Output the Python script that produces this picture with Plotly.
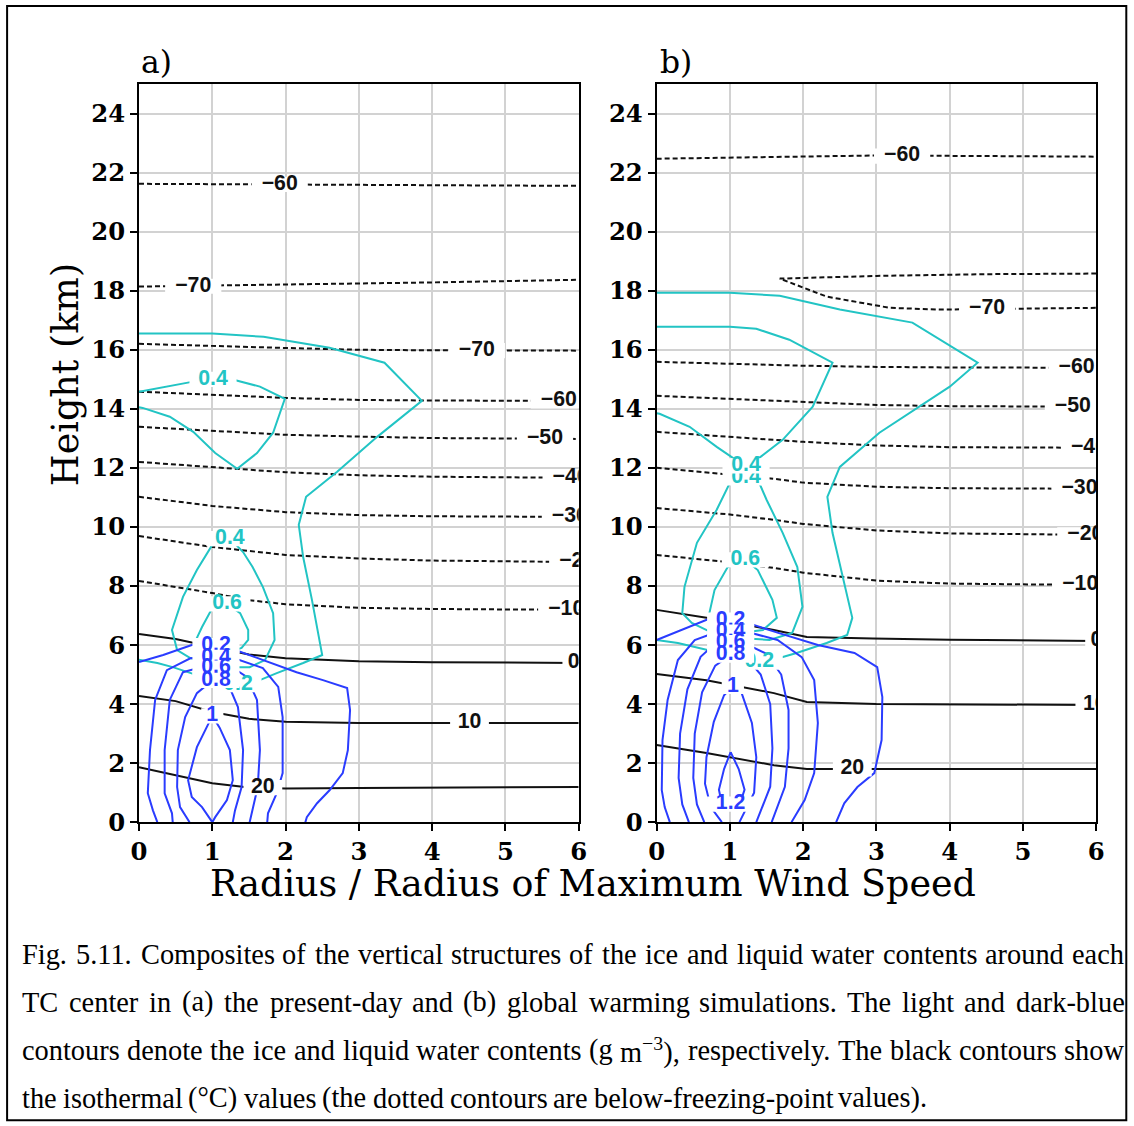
import plotly.graph_objects as go

# ---------------- geometry ----------------
# Target positions below are given in pixels of the 1134x1126 reference picture.
# The photographed page shows the figure scaled by PHOTO_S and shifted by PHOTO_DX,
# so positions are pre-compensated for that.
PHOTO_S = 0.9866
PHOTO_DX = 7.9
FW, FH = 1134, 1136
PA_X0, PA_X1 = 139, 579
PB_X0, PB_X1 = 657, 1097
P_TOP, P_BOT = 84, 822

X_RANGE = [0, 6]
Y_RANGE = [0, 25]
X_TICKS = [0, 1, 2, 3, 4, 5, 6]
Y_TICKS = list(range(0, 25, 2))

# ---------------- panel a : isotherms (deg C) ----------------
A_T_M60_HI = [(0, 21.62), (2, 21.6), (4, 21.57), (6, 21.55)]
A_T_M70_HI = [(0, 18.14), (2, 18.2), (4, 18.28), (6, 18.37)]
A_T_M70_LO = [(0, 16.2), (1, 16.12), (2, 16.06), (3, 16.0), (4, 15.98), (6, 15.97)]
A_T_M60_LO = [(0, 14.58), (1, 14.47), (2, 14.37), (3, 14.3), (4, 14.28), (6, 14.27)]
A_T_M50 = [(0, 13.39), (1, 13.25), (2, 13.12), (3, 13.06), (4, 13.01), (6, 12.98)]
A_T_M40 = [(0, 12.2), (1, 12.02), (2, 11.85), (3, 11.75), (4, 11.7), (6, 11.66)]
A_T_M30 = [(0, 11.02), (1, 10.71), (2, 10.5), (3, 10.4), (4, 10.36), (6, 10.34)]
A_T_M20 = [(0, 9.69), (1, 9.32), (2, 9.05), (3, 8.93), (4, 8.86), (6, 8.81)]
A_T_M10 = [(0, 8.17), (1, 7.76), (1.5, 7.52), (2, 7.38), (3, 7.26), (4, 7.22), (6, 7.19)]
A_T_0 = [(0, 6.37), (0.5, 6.2), (1, 5.93), (1.5, 5.68), (2, 5.55), (3, 5.45), (4, 5.42), (6, 5.39)]
A_T_10 = [(0, 4.27), (0.5, 4.1), (1, 3.73), (1.5, 3.5), (2, 3.4), (3, 3.36), (6, 3.36)]
A_T_20 = [(0, 1.86), (0.5, 1.6), (1, 1.32), (1.5, 1.17), (2, 1.14), (3, 1.16), (6, 1.19)]

# ---------------- panel a : ice water content (g m-3) ----------------
A_I02 = [(0, 16.55), (1, 16.55), (1.7, 16.44), (2.6, 16.07), (3.35, 15.56), (3.86, 14.27),
         (3.25, 13.05), (2.7, 11.86), (2.28, 11.02), (2.18, 10.07), (2.24, 8.98), (2.36, 7.53),
         (2.5, 5.66), (2.24, 5.39), (1.88, 5.05), (1.55, 4.71), (1.35, 4.64), (1.1, 4.75),
         (0.79, 4.98), (0.46, 5.25), (0.25, 5.39), (0, 5.5)]
A_I04_HI = [(0, 14.58), (0.29, 14.71), (0.74, 14.92), (1.0, 15.0), (1.24, 15.02), (1.65, 14.75),
            (1.99, 14.34), (1.83, 13.19), (1.61, 12.5), (1.34, 11.97), (1.04, 12.5), (0.74, 13.22),
            (0.42, 13.73), (0.05, 14.03), (0, 14.05)]
A_I04_LO = [(1.24, 9.62), (1.0, 9.39), (0.79, 8.54), (0.6, 7.63), (0.45, 6.51), (0.52, 5.83),
            (0.7, 5.56), (1.0, 5.39), (1.24, 5.25), (1.51, 5.25), (1.72, 5.49), (1.85, 6.17),
            (1.83, 7.08), (1.69, 7.97), (1.55, 8.64), (1.42, 9.15), (1.24, 9.62)]
A_I06 = [(1.2, 7.39), (1.0, 7.25), (0.86, 6.61), (0.79, 6.24), (0.94, 5.93), (1.2, 5.73),
         (1.4, 5.9), (1.49, 6.17), (1.49, 6.51), (1.38, 7.08), (1.2, 7.39)]

# ---------------- panel a : liquid water content (g m-3) ----------------
A_L02 = [(0, 5.42), (0.33, 5.66), (0.72, 6.0), (1.08, 6.07), (1.24, 5.9), (1.69, 5.49),
         (2.15, 5.08), (2.51, 4.81), (2.84, 4.54), (2.88, 3.8), (2.85, 2.44), (2.78, 1.66),
         (2.6, 1.08), (2.43, 0.64), (2.29, 0.17), (2.27, 0)]
A_L04 = [(0.25, 0), (0.19, 0.4), (0.12, 0.98), (0.15, 2.44), (0.22, 4.14), (0.38, 5.15),
         (0.7, 5.55), (1.08, 5.62), (1.3, 5.55), (1.69, 5.22), (1.9, 4.58), (1.96, 3.56),
         (1.96, 1.66), (1.88, 0.98), (1.76, 0.3), (1.75, 0)]
A_L06 = [(0.46, 0), (0.45, 0.3), (0.35, 0.98), (0.35, 2.44), (0.42, 4.14), (0.6, 5.08),
         (0.85, 5.25), (1.08, 5.26), (1.3, 5.2), (1.47, 4.92), (1.61, 4.14), (1.65, 2.44),
         (1.62, 1.19), (1.54, 0.3), (1.51, 0)]
A_L08 = [(0.69, 0), (0.56, 0.51), (0.52, 1.19), (0.53, 2.44), (0.63, 3.56), (0.79, 4.37),
         (1.0, 4.8), (1.24, 4.54), (1.35, 3.9), (1.42, 2.44), (1.4, 1.19), (1.31, 0.4), (1.28, 0)]
A_L10 = [(1.0, 0), (0.86, 0.51), (0.72, 0.85), (0.67, 1.42), (0.79, 2.54), (1.0, 3.6),
         (1.1, 3.2), (1.24, 2.44), (1.28, 1.42), (1.2, 0.75), (1.04, 0.17), (1.0, 0)]

# ---------------- panel b : isotherms ----------------
B_T_M60_HI = [(0, 22.47), (1.5, 22.52), (3, 22.58), (4.5, 22.56), (6, 22.54)]
B_T_M70 = [(6, 18.58), (4.5, 18.56), (3, 18.5), (2.2, 18.45), (1.68, 18.41), (2.32, 17.8),
           (3.18, 17.42), (3.86, 17.36), (4.5, 17.38), (6, 17.42)]
B_T_M60_LO = [(0, 15.59), (1, 15.52), (2, 15.46), (3, 15.42), (4, 15.4), (6, 15.39)]
B_T_M50 = [(0, 14.44), (1, 14.33), (2, 14.22), (3, 14.13), (4, 14.09), (6, 14.07)]
B_T_M40 = [(0, 13.22), (1, 13.05), (2, 12.88), (3, 12.76), (4, 12.7), (6, 12.68)]
B_T_M30 = [(0, 12.0), (1, 11.78), (1.6, 11.63), (2, 11.5), (3, 11.36), (4, 11.31), (6, 11.29)]
B_T_M20 = [(0, 10.64), (1, 10.42), (1.6, 10.24), (2, 10.1), (3, 9.88), (4, 9.78), (6, 9.73)]
B_T_M10 = [(0, 9.05), (1, 8.8), (1.6, 8.61), (2, 8.45), (3, 8.18), (4, 8.08), (6, 8.03)]
B_T_0 = [(0, 7.19), (0.68, 6.92), (1.6, 6.51), (2.05, 6.27), (2.95, 6.22), (4, 6.18), (6, 6.14)]
B_T_10 = [(0, 5.02), (0.68, 4.81), (1.6, 4.37), (2.05, 4.07), (3, 4.0), (6, 3.97)]
B_T_20 = [(0, 2.61), (0.68, 2.34), (1.6, 1.93), (2.05, 1.8), (3, 1.8), (6, 1.8)]

# ---------------- panel b : ice water content ----------------
B_I02 = [(0, 17.93), (1.0, 17.93), (1.68, 17.83), (2.5, 17.36), (3.49, 16.92), (4.38, 15.56),
         (4.0, 14.75), (3.56, 14.03), (3.04, 13.19), (2.5, 12.03), (2.33, 11.02), (2.4, 9.8),
         (2.54, 8.31), (2.67, 6.92), (2.6, 6.34), (2.32, 6.07), (1.91, 5.73), (1.58, 5.49),
         (1.4, 5.42), (0.89, 5.73), (0.61, 5.9), (0.29, 6.07), (0, 6.17)]
B_I04_HI = [(0, 16.78), (1.0, 16.78), (1.36, 16.71), (1.81, 16.34), (2.4, 15.56), (2.13, 14.07),
            (1.72, 12.95), (1.4, 12.34), (1.22, 12.07), (1.04, 12.34), (0.82, 12.71),
            (0.45, 13.39), (0.04, 13.83), (0, 13.85)]
B_I04_LO = [(1.22, 11.66), (1.0, 11.49), (0.82, 10.58), (0.55, 9.46), (0.38, 7.97), (0.35, 7.08),
            (0.48, 6.75), (0.76, 6.41), (1.13, 6.24), (1.54, 6.17), (1.85, 6.41), (1.99, 7.29),
            (1.92, 8.64), (1.72, 9.8), (1.5, 10.92), (1.4, 11.49), (1.22, 11.66)]
B_I06 = [(1.21, 8.88), (0.97, 8.64), (0.79, 7.86), (0.72, 7.08), (0.86, 6.51), (1.13, 6.41),
         (1.45, 6.51), (1.64, 6.92), (1.58, 7.53), (1.38, 8.54), (1.21, 8.88)]

# ---------------- panel b : liquid water content ----------------
B_L02 = [(0, 6.17), (0.34, 6.51), (0.75, 6.92), (1.01, 6.9), (1.24, 6.75), (1.66, 6.41),
         (2.2, 6.0), (2.7, 5.73), (3.01, 5.25), (3.08, 4.24), (3.07, 2.78), (2.97, 1.66),
         (2.74, 1.19), (2.56, 0.64), (2.45, 0)]
B_L04 = [(0.18, 0), (0.11, 0.51), (0.07, 1.08), (0.08, 2.78), (0.15, 4.14), (0.29, 5.49),
         (0.52, 6.17), (0.8, 6.42), (1.01, 6.47), (1.23, 6.45), (1.65, 6.17), (1.98, 5.59),
         (2.15, 4.81), (2.2, 3.36), (2.15, 1.66), (2.02, 0.75), (1.84, 0)]
B_L06 = [(0.44, 0), (0.35, 0.6), (0.3, 1.5), (0.32, 3.0), (0.42, 4.5), (0.6, 5.6), (0.8, 6.05),
         (1.01, 6.1), (1.25, 6.0), (1.5, 5.7), (1.7, 5.0), (1.8, 3.8), (1.8, 2.5), (1.75, 1.2),
         (1.57, 0)]
B_L08 = [(0.65, 0), (0.55, 0.6), (0.5, 1.5), (0.52, 3.0), (0.62, 4.4), (0.8, 5.3), (1.01, 5.66),
         (1.25, 5.5), (1.42, 5.0), (1.55, 4.0), (1.58, 2.5), (1.55, 1.2), (1.36, 0)]
B_L10 = [(0.89, 0), (0.74, 0.5), (0.66, 1.3), (0.68, 2.2), (0.78, 3.4), (0.92, 4.3), (1.04, 4.6),
         (1.16, 4.37), (1.3, 3.36), (1.36, 2.2), (1.33, 1.0), (1.13, 0)]
B_L12 = [(1.01, 2.37), (0.92, 1.8), (0.85, 1.1), (0.9, 0.5), (1.01, 0.42), (1.12, 0.5),
         (1.2, 1.1), (1.12, 1.8), (1.01, 2.37)]

# ---------------- contour labels (x, y, text, kind) ----------------
A_LABELS = [
    (1.92, 21.6, "−60", "T"), (0.74, 18.15, "−70", "T"), (4.61, 15.97, "−70", "T"),
    (5.73, 14.27, "−60", "T"), (5.54, 12.98, "−50", "T"), (5.89, 11.66, "−40", "T"),
    (5.88, 10.34, "−30", "T"), (5.98, 8.81, "−20", "T"), (5.83, 7.19, "−10", "T"),
    (5.93, 5.39, "0", "T"), (4.51, 3.36, "10", "T"), (1.69, 1.17, "20", "T"),
    (1.01, 15.0, "0.4", "I"), (1.24, 9.6, "0.4", "I"), (1.2, 7.39, "0.6", "I"),
    (1.35, 4.66, "0.2", "I"),
    (1.05, 5.98, "0.2", "L"), (1.05, 5.58, "0.4", "L"), (1.05, 5.22, "0.6", "L"),
    (1.05, 4.8, "0.8", "L"), (1.0, 3.6, "1", "L"),
]
B_LABELS = [
    (3.35, 22.56, "−60", "T"), (4.51, 17.4, "−70", "T"), (5.73, 15.39, "−60", "T"),
    (5.68, 14.07, "−50", "T"), (5.9, 12.68, "−40", "T"), (5.77, 11.29, "−30", "T"),
    (5.85, 9.73, "−20", "T"), (5.78, 8.03, "−10", "T"), (6.0, 6.14, "0", "T"),
    (5.98, 3.97, "10", "T"), (2.67, 1.8, "20", "T"),
    (1.21, 8.88, "0.6", "I"), (1.22, 11.66, "0.4", "I"), (1.22, 12.07, "0.4", "I"),
    (1.4, 5.42, "0.2", "I"),
    (1.01, 6.84, "0.2", "L"), (1.01, 6.44, "0.4", "L"), (1.01, 6.08, "0.6", "L"),
    (1.01, 5.66, "0.8", "L"), (1.04, 4.6, "1", "L"), (1.01, 0.61, "1.2", "L"),
]

CAPTION_LINES = [
    "Fig. 5.11. Composites of the vertical structures of the ice and liquid water contents around each",
    "TC center in (a) the present-day and (b) global warming simulations. The light and dark-blue",
    "contours denote the ice and liquid water contents (g m<sup>−3</sup>), respectively. The black contours show",
    "the isothermal (°C) values (the dotted contours are below-freezing-point values).",
]

# ---------------- styles ----------------
FS = 1.0 / PHOTO_S  # font scale compensation
C_BLACK = "#111111"
C_ICE = "#22c4c4"
C_LIQ = "#2a3cff"
C_GRID = "#d2d2d2"
KIND_COLOR = {"T": C_BLACK, "I": C_ICE, "L": C_LIQ}
AXIS_FONT = "DejaVu Serif"
LABEL_FONT = "Liberation Sans"
CAP_FONT = "Liberation Serif"
CAP_SIZE = 28
LABEL_SIZE = 21

fig = go.Figure()


def add_line(pts, color, dash, xa, ya, width=2.0):
    fig.add_trace(go.Scatter(
        x=[p[0] for p in pts], y=[p[1] for p in pts], mode="lines",
        line=dict(color=color, width=width, dash=dash),
        hoverinfo="skip", showlegend=False, xaxis=xa, yaxis=ya, cliponaxis=True))


DASH = "5px,3px"
panels = [
    ("x", "y",
     [A_T_M60_HI, A_T_M70_HI, A_T_M70_LO, A_T_M60_LO, A_T_M50, A_T_M40, A_T_M30, A_T_M20, A_T_M10],
     [A_T_0, A_T_10, A_T_20],
     [A_I02, A_I04_HI, A_I04_LO, A_I06],
     [A_L02, A_L04, A_L06, A_L08, A_L10],
     A_LABELS),
    ("x2", "y2",
     [B_T_M60_HI, B_T_M70, B_T_M60_LO, B_T_M50, B_T_M40, B_T_M30, B_T_M20, B_T_M10],
     [B_T_0, B_T_10, B_T_20],
     [B_I02, B_I04_HI, B_I04_LO, B_I06],
     [B_L02, B_L04, B_L06, B_L08, B_L10, B_L12],
     B_LABELS),
]

CHAR_W = {"−": 0.584, ".": 0.278}
for xa, ya, neg, pos, ice, liq, labels in panels:
    for c in neg:
        add_line(c, C_BLACK, DASH, xa, ya, 2.0)
    for c in pos:
        add_line(c, C_BLACK, "solid", xa, ya, 2.0)
    for c in ice:
        add_line(c, C_ICE, "solid", xa, ya, 2.0)
    for c in liq:
        add_line(c, C_LIQ, "solid", xa, ya, 2.0)
    for (lx, ly, txt, kind) in labels:
        wpx = (sum(CHAR_W.get(ch, 0.556) for ch in txt) * LABEL_SIZE + 4) * FS
        fig.add_trace(go.Scatter(
            x=[lx], y=[ly], mode="markers+text", text=["<b>" + txt + "</b>"],
            textposition="middle center",
            marker=dict(symbol="line-ew", size=wpx, color="white",
                        line=dict(color="white", width=15 * FS)),
            textfont=dict(family=LABEL_FONT, size=LABEL_SIZE * FS, color=KIND_COLOR[kind]),
            hoverinfo="skip", showlegend=False, xaxis=xa, yaxis=ya, cliponaxis=True))


def px2x(p):
    return ((p - PHOTO_DX) / PHOTO_S) / FW


def px2y(p):
    return 1 - (p / PHOTO_S) / FH


common_x = dict(range=X_RANGE, tickvals=X_TICKS, ticktext=[str(v) for v in X_TICKS],
                showgrid=True, gridcolor=C_GRID, gridwidth=1.5, zeroline=False,
                showline=True, linecolor="black", linewidth=2, mirror=True,
                ticks="outside", ticklen=7, tickwidth=2, tickcolor="black",
                tickfont=dict(family=AXIS_FONT, size=24 * FS, color="black", weight="bold"))
common_y = dict(range=Y_RANGE, tickvals=Y_TICKS, ticktext=[str(v) for v in Y_TICKS],
                showgrid=True, gridcolor=C_GRID, gridwidth=1.5, zeroline=False,
                showline=True, linecolor="black", linewidth=2, mirror=True,
                ticks="outside", ticklen=7, tickwidth=2, tickcolor="black",
                tickfont=dict(family=AXIS_FONT, size=24 * FS, color="black", weight="bold"),
                domain=[px2y(P_BOT), px2y(P_TOP)])

fig.update_layout(
    width=FW, height=FH, margin=dict(l=0, r=0, t=0, b=0),
    paper_bgcolor="white", plot_bgcolor="white", showlegend=False,
    xaxis=dict(domain=[px2x(PA_X0), px2x(PA_X1)], anchor="y", **common_x),
    yaxis=dict(anchor="x", **common_y),
    xaxis2=dict(domain=[px2x(PB_X0), px2x(PB_X1)], anchor="y2", **common_x),
    yaxis2=dict(anchor="x2", **common_y),
)

annotations = [
    dict(x=px2x(157), y=px2y(62), text="a)", font=dict(family=AXIS_FONT, size=31 * FS, color="black")),
    dict(x=px2x(676), y=px2y(62), text="b)", font=dict(family=AXIS_FONT, size=31 * FS, color="black")),
    dict(x=px2x(65), y=px2y(375), text="Height (km)", textangle=-90,
         font=dict(family=AXIS_FONT, size=36 * FS, color="black")),
    dict(x=px2x(593), y=px2y(883), text="Radius / Radius of Maximum Wind Speed",
         font=dict(family=AXIS_FONT, size=36 * FS, color="black")),
]

# ---- caption, justified word by word with Times metrics ----
TW = {" ": 250, "(": 333, ")": 333, ",": 250, "-": 333, ".": 250, "/": 278, ":": 278,
      "°": 400, "−": 564,
      "A": 722, "B": 667, "C": 667, "D": 722, "E": 611, "F": 556, "G": 722, "H": 722,
      "I": 333, "J": 389, "K": 722, "L": 611, "M": 889, "N": 722, "O": 722, "P": 556,
      "Q": 722, "R": 667, "S": 556, "T": 611, "U": 722, "V": 722, "W": 944, "X": 722,
      "Y": 722, "Z": 611,
      "a": 444, "b": 500, "c": 444, "d": 500, "e": 444, "f": 333, "g": 500, "h": 500,
      "i": 278, "j": 278, "k": 500, "l": 278, "m": 778, "n": 500, "o": 500, "p": 500,
      "q": 500, "r": 333, "s": 389, "t": 278, "u": 500, "v": 500, "w": 722, "x": 500,
      "y": 500, "z": 444}


def word_width(word, size):
    total = 0.0
    rest = word
    while rest:
        if rest.startswith("<sup>"):
            end = rest.index("</sup>")
            inner = rest[5:end]
            total += 0.7 * sum(TW.get(ch, 500) for ch in inner)
            rest = rest[end + 6:]
        else:
            total += TW.get(rest[0], 500)
            rest = rest[1:]
    return total * size / 1000.0


CAP_LEFT, CAP_RIGHT = 20, 1122
CAP_Y = [954, 1002, 1050, 1098]
for i, line in enumerate(CAPTION_LINES):
    words = line.split(" ")
    widths = [word_width(w, CAP_SIZE) for w in words]   # in reference pixels
    if i < len(CAPTION_LINES) - 1:
        gap = (CAP_RIGHT - CAP_LEFT - sum(widths)) / (len(words) - 1)
    else:
        gap = TW[" "] * CAP_SIZE / 1000.0
    xpos = CAP_LEFT
    for w, ww in zip(words, widths):
        annotations.append(dict(x=px2x(xpos), y=px2y(CAP_Y[i]), text=w, xanchor="left",
                                yanchor="middle",
                                font=dict(family=CAP_FONT, size=CAP_SIZE * FS, color="black")))
        xpos += ww + gap

for a in annotations:
    a.setdefault("xref", "paper")
    a.setdefault("yref", "paper")
    a.setdefault("xanchor", "center")
    a.setdefault("yanchor", "middle")
    a.setdefault("showarrow", False)
fig.update_layout(annotations=annotations)

fig.add_shape(type="rect", xref="paper", yref="paper",
              x0=px2x(7), x1=px2x(1127), y0=px2y(1120), y1=px2y(6),
              line=dict(color="black", width=2), fillcolor="rgba(0,0,0,0)", layer="above")

fig.write_html("out.html")
